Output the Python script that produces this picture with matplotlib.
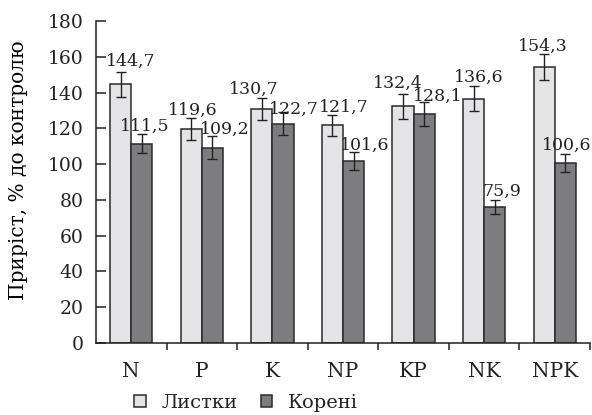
import numpy as np
import matplotlib
matplotlib.use('Agg')
import matplotlib.pyplot as plt

# data
groups = ['N', 'P', 'K', 'NP', 'KP', 'NK', 'NPK']
leaves = [144.7, 119.6, 130.7, 121.7, 132.4, 136.6, 154.3]
roots = [111.5, 109.2, 122.7, 101.6, 128.1, 75.9, 100.6]
leaves_err = [7.0, 6.3, 6.0, 6.0, 7.0, 6.8, 7.5]
roots_err = [5.5, 6.4, 6.2, 5.0, 6.7, 4.0, 4.8]
series_names = ['Листки', 'Корені']

# label nudges (points) relative to the top of each error bar
leaves_dx = [7, 1, -6, 8, -4, 4, -1]
leaves_dy = [4, 2, 3, 2, 4, 3, 2]
roots_dx = [2, 9, 8, 8, 10, 5, 1]
roots_dy = [2, 2, -1, 2, 1, 3, 3]

plt.rcParams['font.family'] = ['DejaVu Serif']
plt.rcParams['text.color'] = '#222222'

fig = plt.figure(figsize=(5.92, 4.15), dpi=100)
ax = fig.add_axes([96 / 592, 72 / 415, 494 / 592, 322 / 415])

x = np.arange(len(groups))
w = 0.30
edge = '#2a2a2a'
light = '#e4e4e6'
dark = '#7d7d80'
ekw = dict(ecolor='#222222', elinewidth=1.0, capsize=3.6, capthick=1.0)

b1 = ax.bar(x - w / 2, leaves, w, color=light, edgecolor=edge, linewidth=1.1,
            yerr=leaves_err, error_kw=ekw, label=series_names[0], zorder=2)
b2 = ax.bar(x + w / 2, roots, w, color=dark, edgecolor=edge, linewidth=1.1,
            yerr=roots_err, error_kw=ekw, label=series_names[1], zorder=2)

def fmt(v):
    return f'{v:.1f}'.replace('.', ',')

for xs, vals, errs, dxs, dys in [(x - w / 2, leaves, leaves_err, leaves_dx, leaves_dy),
                                 (x + w / 2, roots, roots_err, roots_dx, roots_dy)]:
    for xi, v, e, dx, dy in zip(xs, vals, errs, dxs, dys):
        ax.annotate(fmt(v), (xi, v + e), xytext=(dx, dy), textcoords='offset points',
                    ha='center', va='baseline', fontsize=12.5, zorder=5)

ax.set_xlim(-0.5, len(groups) - 0.5)
ax.set_ylim(0, 180)
ax.set_yticks(np.arange(0, 181, 20))
ax.tick_params(axis='y', direction='in', length=7, width=1.1, pad=9,
               labelsize=13.5, colors='#222222')

ax.set_xticks(np.arange(0.5, len(groups) - 0.4, 1.0))
ax.set_xticklabels([])
ax.tick_params(axis='x', which='major', direction='out', length=5, width=1.1,
               color='#222222')
ax.set_xticks(x, minor=True)
ax.set_xticklabels(groups, minor=True)
ax.tick_params(axis='x', which='minor', length=0, pad=14, labelsize=14.5,
               labelcolor='#222222')

for s in ['top', 'right']:
    ax.spines[s].set_visible(False)
for s in ['left', 'bottom']:
    ax.spines[s].set_linewidth(1.1)
    ax.spines[s].set_color('#222222')

ax.set_ylabel('Приріст, % до контролю', fontsize=14.5)
ax.yaxis.set_label_coords(-0.138, 0.537)

fig.legend(handles=[b1, b2], labels=series_names, loc='center',
           bbox_to_anchor=(246 / 592, 1 - 403 / 415), ncol=2, frameon=False,
           fontsize=14, handlelength=0.6, handleheight=0.6, handletextpad=0.8,
           columnspacing=1.2)

fig.savefig('out.png', dpi=100)
